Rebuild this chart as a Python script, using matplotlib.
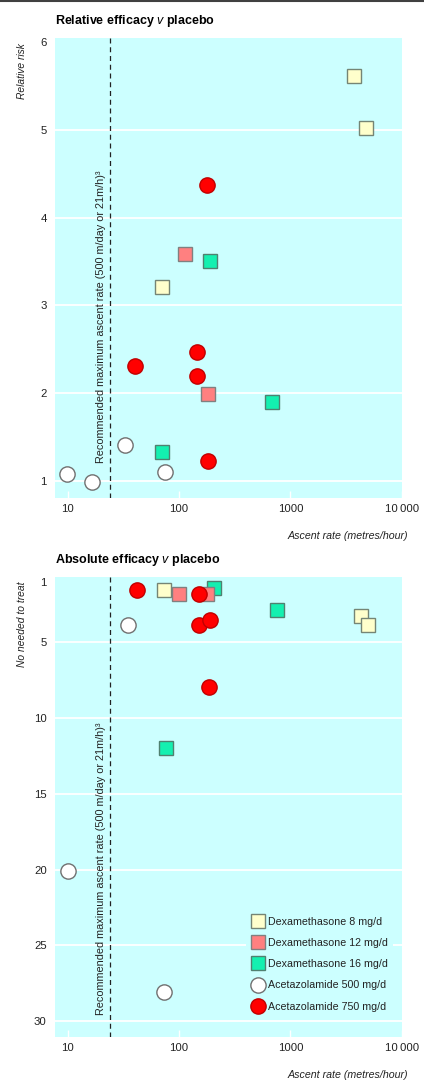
import numpy as np
import matplotlib
matplotlib.use("Agg")
import matplotlib.pyplot as plt
from matplotlib.lines import Line2D
import matplotlib.transforms as mtransforms

FONT = ["Liberation Sans", "DejaVu Sans"]
plt.rcParams["font.family"] = FONT
plt.rcParams["mathtext.fontset"] = "custom"
plt.rcParams["mathtext.it"] = "Liberation Sans:italic"
plt.rcParams["mathtext.rm"] = "Liberation Sans"

# ---- data (ascent rate in m/h) ----
series_names = ["Dexamethasone 8 mg/d", "Dexamethasone 12 mg/d", "Dexamethasone 16 mg/d",
                "Acetazolamide 500 mg/d", "Acetazolamide 750 mg/d"]

# relative risk
rr_dex8_x = [3700, 4800, 71]
rr_dex8_y = [5.62, 5.02, 3.21]
rr_dex12_x = [113, 183]
rr_dex12_y = [3.59, 1.99]
rr_dex16_x = [190, 690, 71]
rr_dex16_y = [3.51, 1.90, 1.32]
rr_ace500_x = [9.8, 16.5, 33, 75]
rr_ace500_y = [1.07, 0.98, 1.41, 1.10]
rr_ace750_x = [177, 40, 144, 144, 181]
rr_ace750_y = [4.37, 2.31, 2.47, 2.19, 1.22]

# number needed to treat
nnt_dex8_x = [74, 4270, 5000]
nnt_dex8_y = [1.55, 3.3, 3.85]
nnt_dex12_x = [100, 177]
nnt_dex12_y = [1.8, 1.8]
nnt_dex16_x = [205, 750, 76]
nnt_dex16_y = [1.4, 2.9, 12.0]
nnt_ace500_x = [35, 10, 74]
nnt_ace500_y = [3.85, 20.1, 28.1]
nnt_ace750_x = [42, 150, 150, 190, 185]
nnt_ace750_y = [1.55, 1.85, 3.85, 3.55, 7.95]

rec_rate = 24  # recommended maximum ascent rate line
x_ticks = [10, 100, 1000, 10000]
x_ticklabels = ["10", "100", "1000", "10\u2009000"]
rr_ticks = [1, 2, 3, 4, 5, 6]
rr_grid = [1, 2, 3, 4, 5]
nnt_ticks = [1, 5, 10, 15, 20, 25, 30]
nnt_grid = [5, 10, 15, 20, 25, 30]

BG = "#ccffff"
TXT = "#222222"
styles = [
    dict(marker="s", ms=10, mfc="#ffffcc", mec="#758575", z=3),   # dex 8
    dict(marker="s", ms=10, mfc="#ff8080", mec="#808080", z=5),   # dex 12
    dict(marker="s", ms=10, mfc="#14f0b0", mec="#508070", z=4),   # dex 16
    dict(marker="o", ms=11, mfc="white", mec="#707070", z=6),     # ace 500
    dict(marker="o", ms=11, mfc="#ff0000", mec="#c00000", z=7),   # ace 750
]

fig = plt.figure(figsize=(4.24, 10.82), dpi=100)
ax1 = fig.add_axes([0.1297, 0.5397, 0.818, 0.4251])
ax2 = fig.add_axes([0.1297, 0.0416, 0.818, 0.4251])

fig.add_artist(Line2D([0, 1], [0.9988, 0.9988], color="#404040", lw=1.5))


def setup(ax, ticks, grid, title, ylabel, text_y):
    ax.set_facecolor(BG)
    for s in ax.spines.values():
        s.set_visible(False)
    ax.set_xscale("log")
    ax.set_xlim(7.7, 9900)
    ax.set_xticks(x_ticks)
    ax.set_xticklabels(x_ticklabels)
    ax.xaxis.set_minor_locator(matplotlib.ticker.NullLocator())
    ax.tick_params(axis="x", direction="in", length=5, width=1, color="white",
                   pad=4, labelsize=8.2, labelcolor=TXT)
    ax.set_yticks(ticks)
    ax.tick_params(axis="y", length=0, pad=6, labelsize=8.2, labelcolor=TXT)
    for g in grid:
        ax.axhline(g, color="white", lw=1.3, zorder=1)
    ax.axvline(rec_rate, color=TXT, lw=0.9, ls=(0, (4, 3)), zorder=2)
    tr = mtransforms.blended_transform_factory(ax.transData, ax.transAxes)
    ax.text(rec_rate, text_y, "Recommended maximum ascent rate (500 m/day or 21m/h)³",
            transform=tr + mtransforms.ScaledTranslation(-3 / 72, 0, fig.dpi_scale_trans),
            rotation=90, ha="right", va="bottom", fontsize=7.8, color=TXT)
    ax.text(0, 1.02, title + " $\\mathit{v}$ placebo", transform=ax.transAxes,
            ha="left", va="bottom", fontsize=9, fontweight="bold")
    ax.text(-0.095, 0.99, ylabel, transform=ax.transAxes, rotation=90,
            ha="center", va="top", fontsize=7.4, style="italic", color=TXT)
    ax.text(1.017, -0.082, "Ascent rate (metres/hour)", transform=ax.transAxes,
            ha="right", va="center", fontsize=7.7, style="italic", color=TXT)


setup(ax1, rr_ticks, rr_grid, "Relative efficacy", "Relative risk", 0.076)
ax1.set_ylim(0.8, 6.05)

setup(ax2, nnt_ticks, nnt_grid, "Absolute efficacy", "No needed to treat", 0.048)
ax2.set_ylim(31.05, 0.7)

rr_data = [(rr_dex8_x, rr_dex8_y), (rr_dex12_x, rr_dex12_y), (rr_dex16_x, rr_dex16_y),
           (rr_ace500_x, rr_ace500_y), (rr_ace750_x, rr_ace750_y)]
nnt_data = [(nnt_dex8_x, nnt_dex8_y), (nnt_dex12_x, nnt_dex12_y), (nnt_dex16_x, nnt_dex16_y),
            (nnt_ace500_x, nnt_ace500_y), (nnt_ace750_x, nnt_ace750_y)]

handles = []
for ax, data in [(ax1, rr_data), (ax2, nnt_data)]:
    for (xs, ys), st, name in zip(data, styles, series_names):
        h, = ax.plot(xs, ys, ls="none", marker=st["marker"], ms=st["ms"],
                     mfc=st["mfc"], mec=st["mec"], mew=1, zorder=st["z"],
                     label=name, clip_on=False)
        if ax is ax2:
            handles.append(h)

leg = ax2.legend(handles=handles, loc="upper left", bbox_to_anchor=(0.535, 0.285),
                 frameon=True, facecolor=BG, edgecolor="none", framealpha=1,
                 fontsize=7.7, labelspacing=1.05, handletextpad=0.35,
                 handlelength=1.2, borderpad=0.5, numpoints=1)
for t in leg.get_texts():
    t.set_color(TXT)

fig.savefig("out.png", dpi=100)
